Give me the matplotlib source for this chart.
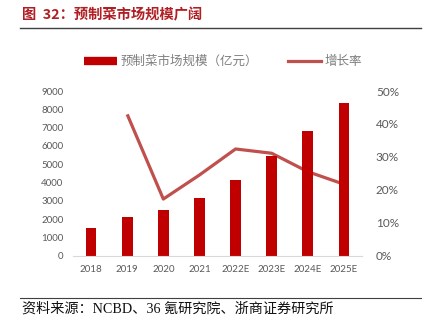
import matplotlib.pyplot as plt
import numpy as np
from matplotlib.lines import Line2D

plt.rcParams['font.family'] = ['Lato', 'Noto Sans CJK SC', 'DejaVu Sans']

# 预制菜市场规模（亿元）与增长率
years = ['2018', '2019', '2020', '2021', '2022E', '2023E', '2024E', '2025E']
scale = [1500, 2140, 2510, 3150, 4150, 5430, 6840, 8330]
growth_years = years[1:]
growth = [42.9, 17.2, 24.5, 32.4, 31.1, 25.5, 21.7]

bar_color = '#C00000'
line_color = '#C0504D'
tick_color = '#595959'

fig = plt.figure(figsize=(4.25, 3.29), dpi=100)
ax = fig.add_axes([0.1718, 0.2228, 0.68, 0.5006])
ax2 = ax.twinx()

x = np.arange(len(years))
ax.bar(x, scale, width=0.30, color=bar_color, zorder=2)
ax.set_xlim(-0.5, len(years) - 0.5)
ax.set_ylim(0, 9000)
ax.set_yticks(np.arange(0, 9001, 1000))
ax.set_xticks(x)
ax.set_xticklabels(years)

gx = [years.index(y) for y in growth_years]
ax2.plot(gx, growth, color=line_color, lw=2.3, solid_capstyle='butt', zorder=3)
ax2.set_ylim(0, 50)
ax2.set_yticks(np.arange(0, 51, 10))
ax2.set_yticklabels([f'{v}%' for v in range(0, 51, 10)])

for a in (ax, ax2):
    for s in a.spines.values():
        s.set_visible(False)
    a.tick_params(length=0, labelsize=7, colors=tick_color)
ax.spines['bottom'].set_visible(True)
ax.spines['bottom'].set_color('#D9D9D9')
ax.tick_params(axis='x', pad=7)
ax.tick_params(axis='y', pad=7)
ax2.tick_params(axis='y', labelsize=8.5, pad=10)
ax.set_zorder(ax2.get_zorder() + 1)
ax.patch.set_visible(False)

# 图例
handles = [Line2D([0], [0], color=bar_color, lw=6, solid_capstyle='butt'),
           Line2D([0], [0], color=line_color, lw=2.3)]
fig.legend(handles, ['预制菜市场规模（亿元）', '增长率'], loc='center',
           bbox_to_anchor=(0.525, 0.813), ncol=2, frameon=False,
           handlelength=2.6, handletextpad=0.3, columnspacing=2.4,
           prop={'family': ['Noto Sans CJK SC'], 'size': 9},
           labelcolor='#7F7F7F')

# 标题与来源
fig.text(0.052, 0.954, '图  32：预制菜市场规模广阔', color='#B01F24',
         fontsize=10.3, fontweight='bold', family=['Noto Sans CJK SC'],
         va='center', ha='left')
fig.add_artist(Line2D([0.047, 0.99], [0.915, 0.915], color='#404040', lw=1.0))
fig.add_artist(Line2D([0.047, 0.99], [0.095, 0.095], color='#404040', lw=0.8))
fig.text(0.052, 0.061, '资料来源：NCBD、36 氪研究院、浙商证券研究所', color='#111111',
         fontsize=10.2, family=['Liberation Serif', 'Noto Sans CJK SC'],
         va='center', ha='left')

fig.savefig('out.png', dpi=100)
